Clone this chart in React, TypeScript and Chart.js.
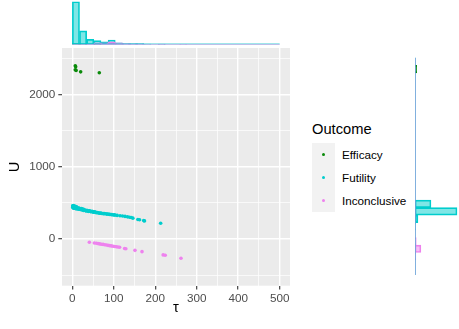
import React, { useEffect, useRef } from "react";
import { Chart, registerables } from "chart.js";
Chart.register(...registerables);

const FONT = "'Liberation Sans', Arial, Helvetica, sans-serif";

// ---------- data ----------
const outcomes = ["Efficacy", "Futility", "Inconclusive"];
const colors = ["#0A8A0A", "#00CDCD", "#EE82EE"];
const fills = ["rgba(10,138,10,0.5)", "rgba(0,205,205,0.5)", "rgba(238,130,238,0.5)"];

const efficacyTau = [7, 8, 7, 9, 20, 65];
const efficacyU = [2395, 2380, 2340, 2330, 2310, 2297];

const futilityTau = [1, 1, 2, 2, 2, 3, 3, 4, 4, 5, 5, 6, 6, 7, 7, 8, 8, 9, 9, 10, 10, 11, 12, 13, 14, 15, 16, 17, 18, 19, 21, 22, 23, 25, 26, 27, 29, 30, 32, 33, 35, 36, 38, 39, 41, 42, 44, 45, 47, 48, 50, 51, 53, 54, 56, 58, 60, 62, 64, 66, 68, 70, 72, 75, 77, 80, 83, 85, 88, 90, 93, 95, 99, 101, 103, 108, 115, 121, 127, 133, 138, 142, 146, 158, 162, 172, 174, 213];
const futilityU = [458, 440, 445, 430, 462, 452, 424, 438, 455, 425, 448, 447, 430, 433, 452, 420, 444, 440, 426, 428, 446, 415, 432, 424, 420, 410, 428, 422, 414, 408, 414, 420, 402, 406, 412, 395, 402, 398, 392, 388, 396, 391, 384, 382, 390, 385, 380, 376, 382, 379, 374, 370, 376, 372, 368, 364, 366, 362, 360, 356, 358, 354, 352, 350, 351, 348, 344, 346, 342, 340, 338, 336, 332, 334, 330, 326, 321, 317, 312, 306, 300, 296, 288, 270, 266, 254, 250, 217];

const inconclusiveTau = [41, 53, 58, 62, 66, 70, 74, 78, 82, 86, 90, 94, 98, 102, 106, 110, 114, 126, 129, 151, 168, 219, 224, 262];
const inconclusiveU = [-46, -55, -60, -64, -68, -72, -75, -80, -84, -88, -92, -96, -100, -104, -107, -111, -114, -132, -135, -157, -175, -220, -226, -267];

// marginal histogram of tau (relative counts)
const tauBinCenters = [8.62, 25.86, 43.1, 60.34, 77.59, 94.83, 112.07, 129.31, 146.55, 163.79, 181.03, 198.28, 215.52, 232.76, 250.0, 267.24, 284.48, 301.72, 318.97, 336.21, 353.45, 370.69, 387.93, 405.17, 422.41, 439.66, 456.9, 474.14, 491.38];
const efficacyTauCounts = [2, 0.5, 0, 0.5, 0, 0, 0, 0, 0, 0, 0, 0, 0, 0, 0, 0, 0, 0, 0, 0, 0, 0, 0, 0, 0, 0, 0, 0, 0];
const futilityTauCounts = [100, 32, 12, 9, 6, 10.5, 4, 2, 2, 2, 1, 0, 0.5, 0, 0, 0, 0, 0, 0, 0, 0, 0, 0, 0, 0, 0, 0, 0, 0];
const inconclusiveTauCounts = [0, 0, 1, 4, 4, 6.5, 4, 2, 1.5, 1.5, 0, 0, 1, 0, 0, 0.5, 0, 0, 0, 0, 0, 0, 0, 0, 0, 0, 0, 0, 0];

// marginal histogram of U (relative counts)
const uBinCenters = [-446.25, -342.75, -239.25, -135.75, -32.25, 71.25, 174.75, 278.25, 381.75, 485.25, 588.75, 692.25, 795.75, 899.25, 1002.75, 1106.25, 1209.75, 1313.25, 1416.75, 1520.25, 1623.75, 1727.25, 1830.75, 1934.25, 2037.75, 2141.25, 2244.75, 2348.25, 2451.75];
const efficacyUCounts = [0, 0, 0, 0, 0, 0, 0, 0, 0, 0, 0, 0, 0, 0, 0, 0, 0, 0, 0, 0, 0, 0, 0, 0, 0, 0, 0, 4, 0];
const futilityUCounts = [0, 0, 0, 0, 0, 0, 1, 7, 100, 38, 0, 0, 0, 0, 0, 0, 0, 0, 0, 0, 0, 0, 0, 0, 0, 0, 0, 0, 0];
const inconclusiveUCounts = [0, 0, 2, 14, 3, 0, 0, 0, 0, 0, 0, 0, 0, 0, 0, 0, 0, 0, 0, 0, 0, 0, 0, 0, 0, 0, 0, 0, 0];

const tauRange = [0, 500];
const uRange = [-498, 2503.5];

const xMajor = [0, 100, 200, 300, 400, 500];
const xTickLabels = ["0", "100", "200", "300", "400", "500"];
const xMinor = [50, 150, 250, 350, 450];
const yMajor = [0, 1000, 2000];
const yTickLabels = ["0", "1000", "2000"];
const yMinor = [-500, 500, 1500, 2500];

const X_MIN = -25, X_MAX = 525;
const Y_MIN = -646, Y_MAX = 2640;

const panelBg = {
  id: "panelBg",
  beforeDraw(chart: any) {
    const { ctx, chartArea } = chart;
    ctx.save();
    ctx.fillStyle = "#EBEBEB";
    ctx.fillRect(chartArea.left, chartArea.top, chartArea.right - chartArea.left, chartArea.bottom - chartArea.top);
    ctx.restore();
  },
};

function zip(a: number[], b: number[]) {
  return a.map((v, i) => ({ x: v, y: b[i] }));
}

export default function App() {
  const mainRef = useRef<HTMLCanvasElement>(null);
  const topRef = useRef<HTMLCanvasElement>(null);
  const rightRef = useRef<HTMLCanvasElement>(null);

  useEffect(() => {
    const isMajorX = (v: number) => xMajor.includes(v);
    const isMajorY = (v: number) => yMajor.includes(v);

    const main = new Chart(mainRef.current!, {
      type: "scatter",
      data: {
        datasets: [
          { label: outcomes[0], data: zip(efficacyTau, efficacyU), backgroundColor: colors[0], pointRadius: 1.8, pointBorderWidth: 0 },
          { label: outcomes[1], data: zip(futilityTau, futilityU), backgroundColor: colors[1], pointRadius: 1.8, pointBorderWidth: 0 },
          { label: outcomes[2], data: zip(inconclusiveTau, inconclusiveU), backgroundColor: colors[2], pointRadius: 1.8, pointBorderWidth: 0 },
        ],
      },
      options: {
        responsive: false,
        animation: false,
        layout: { padding: { top: 48, right: 10, left: 0, bottom: 0 } },
        plugins: { legend: { display: false }, tooltip: { enabled: false } },
        scales: {
          x: {
            type: "linear",
            min: X_MIN,
            max: X_MAX,
            afterBuildTicks: (s: any) => {
              s.ticks = [...xMajor, ...xMinor].sort((a, b) => a - b).map((v) => ({ value: v }));
            },
            afterFit: (s: any) => { s.height = 43.3; },
            ticks: {
              autoSkip: false, maxRotation: 0, color: "#4D4D4D", padding: 2,
              font: { family: FONT, size: 11.7 },
              callback: (v: any) => { const i = xMajor.indexOf(Number(v)); return i >= 0 ? xTickLabels[i] : ""; },
            },
            grid: {
              color: "#FFFFFF",
              lineWidth: (c: any) => (isMajorX(c.tick?.value) ? 1.4 : 0.7),
              tickColor: (c: any) => (isMajorX(c.tick?.value) ? "#333333" : "rgba(0,0,0,0)"),
              tickLength: 3.7,
              tickWidth: 1.1,
            },
            border: { display: false },
            title: { display: true, text: "τ", color: "#000000", font: { family: FONT, size: 14.7 }, padding: { top: 0, bottom: 12 } },
          },
          y: {
            type: "linear",
            min: Y_MIN,
            max: Y_MAX,
            afterBuildTicks: (s: any) => {
              s.ticks = [...yMajor, ...yMinor].sort((a, b) => a - b).map((v) => ({ value: v }));
            },
            afterFit: (s: any) => { s.width = 62; },
            ticks: {
              autoSkip: false, color: "#4D4D4D", padding: 3,
              font: { family: FONT, size: 11.7 },
              callback: (v: any) => { const i = yMajor.indexOf(Number(v)); return i >= 0 ? yTickLabels[i] : ""; },
            },
            grid: {
              color: "#FFFFFF",
              lineWidth: (c: any) => (isMajorY(c.tick?.value) ? 1.4 : 0.7),
              tickColor: (c: any) => (isMajorY(c.tick?.value) ? "#333333" : "rgba(0,0,0,0)"),
              tickLength: 3.7,
              tickWidth: 1.1,
            },
            border: { display: false },
            title: { display: true, text: "U", color: "#000000", font: { family: FONT, size: 14.7 }, padding: { top: 6, bottom: 0 } },
          },
        },
      },
      plugins: [panelBg],
    } as any);

    const barCommon = { borderWidth: 1, borderSkipped: false, grouped: false, barPercentage: 1, categoryPercentage: 1 };
    const baseViolet = "rgba(238,130,238,0.75)";
    const baseCyan = "rgba(0,190,200,0.75)";

    const top = new Chart(topRef.current!, {
      type: "bar",
      data: {
        datasets: [
          { type: "line", data: [{ x: tauRange[0], y: 0 }, { x: tauRange[1], y: 0 }], borderColor: baseViolet, borderWidth: 1, pointRadius: 0, order: 0 },
          { type: "line", data: [{ x: tauRange[0], y: 0 }, { x: tauRange[1], y: 0 }], borderColor: baseCyan, borderWidth: 2, pointRadius: 0, order: 1 },
          { label: outcomes[2], data: zip(tauBinCenters, inconclusiveTauCounts), backgroundColor: fills[2], borderColor: colors[2], order: 2, ...barCommon },
          { label: outcomes[1], data: zip(tauBinCenters, futilityTauCounts), backgroundColor: fills[1], borderColor: colors[1], order: 3, ...barCommon },
          { label: outcomes[0], data: zip(tauBinCenters, efficacyTauCounts), backgroundColor: fills[0], borderColor: colors[0], order: 4, ...barCommon },
        ],
      },
      options: {
        responsive: false,
        animation: false,
        layout: { padding: { left: 62, right: 10, top: 0, bottom: 3.5 } },
        plugins: { legend: { display: false }, tooltip: { enabled: false } },
        scales: {
          x: { type: "linear", min: X_MIN, max: X_MAX, offset: false, display: false, grid: { offset: false } },
          y: { type: "linear", min: 0, max: 104, display: false },
        },
      },
    } as any);

    const right = new Chart(rightRef.current!, {
      type: "bar",
      data: {
        datasets: [
          { type: "line", indexAxis: "y", data: [{ x: 0, y: uRange[0] }, { x: 0, y: uRange[1] }], borderColor: baseViolet, borderWidth: 1, pointRadius: 0, order: 0 },
          { type: "line", indexAxis: "y", data: [{ x: 0, y: uRange[0] }, { x: 0, y: uRange[1] }], borderColor: baseCyan, borderWidth: 2, pointRadius: 0, order: 1 },
          { label: outcomes[2], data: zip(inconclusiveUCounts, uBinCenters), backgroundColor: fills[2], borderColor: colors[2], order: 2, ...barCommon },
          { label: outcomes[1], data: zip(futilityUCounts, uBinCenters), backgroundColor: fills[1], borderColor: colors[1], order: 3, ...barCommon },
          { label: outcomes[0], data: zip(efficacyUCounts, uBinCenters), backgroundColor: fills[0], borderColor: colors[0], order: 4, ...barCommon },
        ],
      },
      options: {
        indexAxis: "y",
        responsive: false,
        animation: false,
        layout: { padding: { left: 5, right: 0, top: 48, bottom: 43.3 } },
        plugins: { legend: { display: false }, tooltip: { enabled: false } },
        scales: {
          x: { type: "linear", min: 0, max: 104.8, display: false },
          y: { type: "linear", min: Y_MIN, max: Y_MAX, offset: false, display: false, grid: { offset: false } },
        },
      },
    } as any);

    return () => {
      main.destroy();
      top.destroy();
      right.destroy();
    };
  }, []);

  const legendRows = [154.5, 177.5, 200.5];

  return (
    <div style={{ position: "absolute", left: 0, top: 0, width: 459, height: 329, background: "#FFFFFF", fontFamily: FONT }}>
      <canvas ref={mainRef} width={300} height={329} style={{ position: "absolute", left: 0, top: 0, display: "block" }} />
      <canvas ref={topRef} width={300} height={48} style={{ position: "absolute", left: 0, top: 0, display: "block" }} />
      <div style={{ position: "absolute", left: 312, top: 120, fontSize: "14.7px", lineHeight: "18px", color: "#000", whiteSpace: "nowrap" }}>Outcome</div>
      <div style={{ position: "absolute", left: 312, top: 143, width: 23, height: 69, background: "#F2F2F2" }} />
      {outcomes.map((o, i) => (
        <React.Fragment key={o}>
          <div style={{ position: "absolute", left: 322, top: legendRows[i] - 1.5, width: 3, height: 3, borderRadius: "50%", background: colors[i] }} />
          <div style={{ position: "absolute", left: 342, top: legendRows[i] - 7, fontSize: "11.7px", lineHeight: "14px", color: "#000", whiteSpace: "nowrap" }}>{o}</div>
        </React.Fragment>
      ))}
      <canvas ref={rightRef} width={49} height={329} style={{ position: "absolute", left: 410, top: 0, display: "block" }} />
    </div>
  );
}
